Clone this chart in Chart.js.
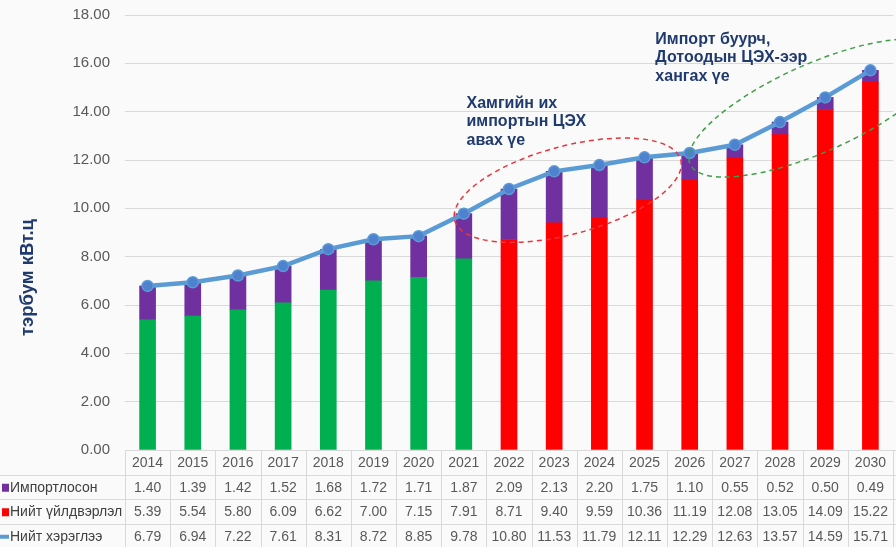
<!DOCTYPE html>
<html>
<head>
<meta charset="utf-8">
<script src="https://cdn.jsdelivr.net/npm/chart.js@4.4.0/dist/chart.umd.min.js"></script>
<style>
  body { margin: 0; overflow: hidden; background: #fafafa; }
  #wrap { width: 900px; height: 547px; }
</style>
</head>
<body>
<div id="wrap"><canvas id="myChart" width="900" height="547"></canvas></div>
<script>
var years = ['2014', '2015', '2016', '2017', '2018', '2019', '2020', '2021', '2022',
             '2023', '2024', '2025', '2026', '2027', '2028', '2029', '2030'];
var imported = [1.40, 1.39, 1.42, 1.52, 1.68, 1.72, 1.71, 1.87, 2.09,
                2.13, 2.20, 1.75, 1.10, 0.55, 0.52, 0.50, 0.49];
var production = [5.39, 5.54, 5.80, 6.09, 6.62, 7.00, 7.15, 7.91, 8.71,
                  9.40, 9.59, 10.36, 11.19, 12.08, 13.05, 14.09, 15.22];
var consumption = [6.79, 6.94, 7.22, 7.61, 8.31, 8.72, 8.85, 9.78, 10.80,
                   11.53, 11.79, 12.11, 12.29, 12.63, 13.57, 14.59, 15.71];
var seriesNames = ['Импортлосон', 'Нийт үйлдвэрлэл', 'Нийт хэрэглээ'];
var yTicks = [0, 2, 4, 6, 8, 10, 12, 14, 16, 18];
var lastActualYear = '2021';
var yTitle = 'тэрбум кВт.ц';
var noteImport = ['Хамгийн их', 'импортын ЦЭХ', 'авах үе'];
var noteDomestic = ['Импорт буурч,', 'Дотоодын ЦЭХ-ээр', 'хангах үе'];

var PURPLE = '#7030A0';
var GREEN = '#00B050';
var RED = '#FF0000';
var LINE = '#5B9BD5';
var NAVY = '#1F3A6E';

var prodColors = years.map(function (y) { return y <= lastActualYear ? GREEN : RED; });

// table under the plot + y axis title
var tablePlugin = {
    id: 'table',
    afterDraw: function (chart) {
        var ctx = chart.ctx;
        var x = chart.scales.x;
        var area = chart.chartArea;
        var colW = x.getPixelForValue(1) - x.getPixelForValue(0);
        var top = area.bottom;
        var rowH = 24.5;
        var rows = [imported, production, consumption];

        ctx.save();
        ctx.strokeStyle = '#D9D9D9';
        ctx.lineWidth = 1;
        ctx.beginPath();
        ctx.moveTo(area.left, top + 0.5);
        ctx.lineTo(chart.width, top + 0.5);
        for (var r = 1; r <= 3; r++) {
            var yy = Math.round(top + r * rowH) + 0.5;
            ctx.moveTo(0, yy);
            ctx.lineTo(chart.width, yy);
        }
        for (var i = 0; i <= years.length; i++) {
            var xx = Math.round(x.getPixelForValue(i) - colW / 2) + 0.5;
            ctx.moveTo(xx, top);
            ctx.lineTo(xx, chart.height);
        }
        ctx.stroke();

        ctx.font = '14px "Liberation Sans", Arial, sans-serif';
        ctx.fillStyle = '#595959';
        ctx.textAlign = 'center';
        ctx.textBaseline = 'middle';
        for (var i = 0; i < years.length; i++) {
            var cx = x.getPixelForValue(i);
            ctx.fillText(years[i], cx, top + rowH / 2 + 1);
            for (var r = 0; r < rows.length; r++) {
                ctx.fillText(rows[r][i].toFixed(2), cx, top + (r + 1.5) * rowH + 1);
            }
        }

        // row labels with markers
        ctx.textAlign = 'left';
        var markers = [PURPLE, RED];
        for (var r = 0; r < 3; r++) {
            var cy = top + (r + 1.5) * rowH + 1;
            if (r < 2) {
                ctx.fillStyle = markers[r];
                ctx.fillRect(2, cy - 4, 7, 8);
            } else {
                ctx.fillStyle = LINE;
                ctx.fillRect(0, cy - 2, 9, 4);
            }
            ctx.fillStyle = '#404040';
            ctx.fillText(seriesNames[r], 10, cy);
        }

        // y axis title
        ctx.translate(28, (area.top + area.bottom) / 2 + 45);
        ctx.rotate(-Math.PI / 2);
        ctx.font = 'bold 18.5px "Liberation Sans", Arial, sans-serif';
        ctx.fillStyle = NAVY;
        ctx.textAlign = 'center';
        ctx.fillText(yTitle, 0, 0);
        ctx.restore();
    }
};

// dashed ellipses and notes, anchored on the scales
var notePlugin = {
    id: 'notes',
    afterDatasetsDraw: function (chart) {
        var ctx = chart.ctx;
        var x = chart.scales.x;
        var y = chart.scales.y;

        function ellipse(idx, val, rx, ry, rot, color) {
            ctx.save();
            ctx.strokeStyle = color;
            ctx.lineWidth = 1.5;
            ctx.setLineDash([5, 4]);
            ctx.beginPath();
            ctx.ellipse(x.getPixelForValue(idx), y.getPixelForValue(val), rx, ry, rot * Math.PI / 180, 0, Math.PI * 2);
            ctx.stroke();
            ctx.restore();
        }

        function note(lines, idx, val) {
            ctx.save();
            ctx.font = 'bold 16px "Liberation Sans", Arial, sans-serif';
            ctx.fillStyle = NAVY;
            ctx.textAlign = 'left';
            ctx.textBaseline = 'middle';
            var px = x.getPixelForValue(idx);
            var py = y.getPixelForValue(val);
            for (var i = 0; i < lines.length; i++) {
                ctx.fillText(lines[i], px, py + i * 18.5);
            }
            ctx.restore();
        }

        ellipse(9.3, 10.75, 117, 44, -15, '#E8343A');
        ellipse(14.8, 14.15, 138, 44, -24, '#3DA044');
        note(noteImport, 7.06, 14.35);
        note(noteDomestic, 11.24, 17.0);
    }
};

window.onload = function () {
    var ctx = document.getElementById('myChart').getContext('2d');
    var myChart = new Chart(ctx, {
        data: {
            labels: years,
            datasets: [{
                type: 'line',
                label: seriesNames[2],
                data: consumption,
                borderColor: LINE,
                borderWidth: 4.5,
                pointRadius: 5.5,
                pointBackgroundColor: '#4F81CF',
                pointBorderColor: LINE,
                pointBorderWidth: 1.5,
                stack: 'line',
                order: 0
            }, {
                type: 'bar',
                label: seriesNames[1],
                data: production,
                backgroundColor: prodColors,
                barThickness: 16,
                stack: 'bars',
                order: 1
            }, {
                type: 'bar',
                label: seriesNames[0],
                data: imported,
                backgroundColor: PURPLE,
                barThickness: 16,
                stack: 'bars',
                order: 2
            }]
        },
        options: {
            responsive: false,
            animation: false,
            layout: {
                padding: { top: 15, bottom: 97, left: 0, right: 2 }
            },
            scales: {
                x: {
                    display: false,
                    stacked: true
                },
                y: {
                    stacked: true,
                    min: 0,
                    max: 18,
                    afterFit: function (scale) {
                        scale.width = 125;
                        scale.paddingTop = 0;
                        scale.paddingBottom = 0;
                    },
                    afterBuildTicks: function (scale) {
                        scale.ticks = yTicks.map(function (v) { return { value: v }; });
                    },
                    ticks: {
                        padding: 15,
                        color: '#595959',
                        font: { family: '"Liberation Sans", Arial, sans-serif', size: 15 },
                        callback: function (v) { return v.toFixed(2); }
                    },
                    grid: { color: '#D9D9D9', drawTicks: false },
                    border: { display: false }
                }
            },
            plugins: {
                legend: { display: false },
                tooltip: { enabled: false }
            }
        },
        plugins: [tablePlugin, notePlugin]
    });
};
</script>
</body>
</html>
